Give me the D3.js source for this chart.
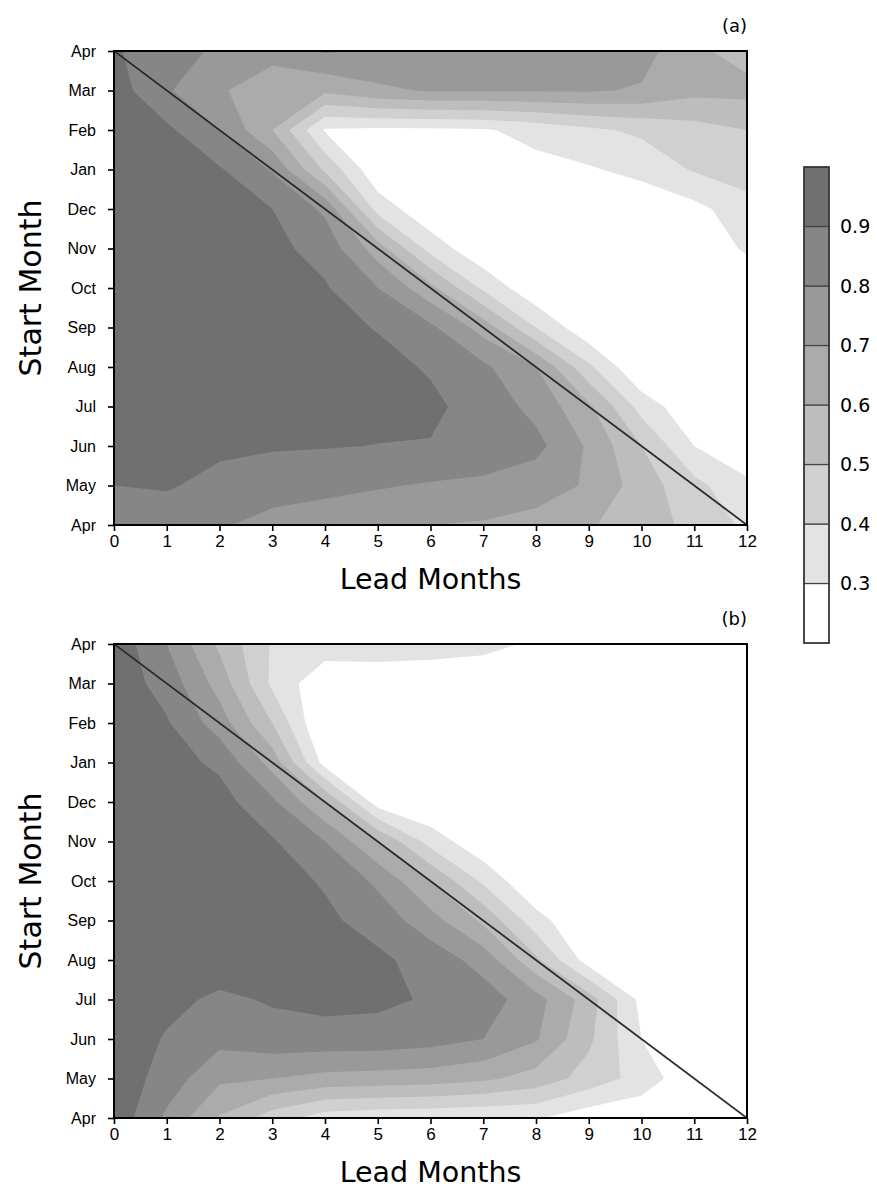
<!DOCTYPE html>
<html><head><meta charset="utf-8">
<script src="https://cdn.jsdelivr.net/npm/d3@7"></script>
<style>body{margin:0;background:#fff}</style>
</head><body>
<svg id="c" width="877" height="1190"></svg>
<script>
// Lead months (x) and start months (y, bottom to top)
const leadMonths = [0,1,2,3,4,5,6,7,8,9,10,11,12];
const startMonths = ["Apr","May","Jun","Jul","Aug","Sep","Oct","Nov","Dec","Jan","Feb","Mar","Apr"];
const levels = [0.3,0.4,0.5,0.6,0.7,0.8,0.9];
const colorbarEdges = [0.2,0.3,0.4,0.5,0.6,0.7,0.8,0.9,1.0];
const bandColors = ["#ffffff","#e3e3e3","#d0d0d0","#bdbdbd","#ababab","#999999","#868686","#707070"];

// Panel (a): rows = start month (Apr ... Apr), columns = lead 0..12
const skillA = [
 [0.86,0.84,0.81,0.77,0.74,0.715,0.70,0.69,0.67,0.61,0.55,0.47,0.38],
 [0.90,0.91,0.87,0.84,0.83,0.81,0.79,0.78,0.74,0.69,0.55,0.43,0.32],
 [0.93,0.94,0.92,0.91,0.905,0.898,0.895,0.86,0.83,0.685,0.50,0.30,0.23],
 [0.95,0.96,0.95,0.94,0.94,0.93,0.92,0.86,0.77,0.62,0.36,0.22,0.21],
 [0.96,0.96,0.95,0.95,0.94,0.93,0.89,0.82,0.70,0.42,0.20,0.20,0.22],
 [0.97,0.97,0.96,0.95,0.93,0.895,0.82,0.66,0.40,0.22,0.20,0.21,0.23],
 [0.97,0.97,0.96,0.94,0.91,0.80,0.63,0.38,0.22,0.20,0.20,0.22,0.25],
 [0.97,0.97,0.95,0.925,0.865,0.65,0.36,0.22,0.20,0.20,0.21,0.25,0.31],
 [0.97,0.96,0.94,0.90,0.78,0.36,0.22,0.20,0.20,0.22,0.23,0.27,0.36],
 [0.97,0.95,0.91,0.79,0.48,0.22,0.21,0.22,0.27,0.29,0.33,0.41,0.45],
 [0.97,0.92,0.80,0.60,0.29,0.28,0.28,0.29,0.33,0.38,0.42,0.46,0.50],
 [0.95,0.81,0.72,0.60,0.62,0.68,0.71,0.71,0.71,0.71,0.69,0.63,0.63],
 [0.91,0.85,0.78,0.76,0.81,0.79,0.78,0.78,0.78,0.77,0.74,0.62,0.56]
];

// Panel (b)
const skillB = [
 [0.97,0.78,0.59,0.45,0.35,0.33,0.32,0.31,0.31,0.24,0.22,0.20,0.20],
 [0.97,0.855,0.72,0.70,0.67,0.66,0.65,0.62,0.56,0.46,0.36,0.22,0.20],
 [0.97,0.89,0.83,0.86,0.86,0.86,0.84,0.80,0.71,0.52,0.30,0.22,0.20],
 [0.97,0.93,0.88,0.91,0.93,0.92,0.89,0.85,0.74,0.55,0.27,0.20,0.20],
 [0.97,0.97,0.96,0.95,0.94,0.92,0.86,0.76,0.52,0.25,0.20,0.20,0.20],
 [0.97,0.97,0.96,0.95,0.92,0.86,0.74,0.58,0.34,0.20,0.20,0.20,0.20],
 [0.97,0.97,0.96,0.94,0.89,0.78,0.60,0.38,0.20,0.20,0.20,0.20,0.20],
 [0.97,0.96,0.95,0.91,0.80,0.60,0.36,0.22,0.20,0.20,0.20,0.20,0.20],
 [0.97,0.95,0.94,0.82,0.60,0.25,0.20,0.20,0.20,0.20,0.20,0.20,0.20],
 [0.97,0.94,0.88,0.66,0.26,0.20,0.20,0.20,0.20,0.20,0.20,0.20,0.20],
 [0.96,0.91,0.75,0.50,0.18,0.20,0.20,0.20,0.20,0.20,0.20,0.20,0.20],
 [0.96,0.86,0.66,0.38,0.22,0.24,0.24,0.25,0.23,0.20,0.20,0.20,0.20],
 [0.97,0.80,0.58,0.39,0.36,0.35,0.34,0.32,0.29,0.27,0.26,0.25,0.25]
];

const svg = d3.select("#c");
svg.append("rect").attr("width",877).attr("height",1190).attr("fill","#fff");
const defs = svg.append("defs");

const tickFont = "'Liberation Sans', Arial, sans-serif";
const titleFont = "'DejaVu Sans', sans-serif";

function panel(values, top, tag) {
  const left = 114, right = 747, bottom = top + 474;
  const nx = leadMonths.length, ny = startMonths.length;
  const x = d3.scaleLinear().domain([0, 12]).range([left, right]);
  const y = d3.scaleLinear().domain([0, 12]).range([bottom, top]);
  const clipId = "clip" + tag;
  defs.append("clipPath").attr("id", clipId)
    .append("rect").attr("x", left).attr("y", top).attr("width", right - left).attr("height", bottom - top);

  const g = svg.append("g");
  const cg = g.append("g").attr("clip-path", `url(#${clipId})`);
  cg.append("rect").attr("x", left).attr("y", top).attr("width", right - left).attr("height", bottom - top)
    .attr("fill", bandColors[0]);

  const contours = d3.contours().size([nx, ny]).thresholds(levels)(values.flat());
  const proj = d3.geoTransform({ point(px, py) { this.stream.point(x(px - 0.5), y(py - 0.5)); } });
  const path = d3.geoPath(proj);
  cg.selectAll("path.band").data(contours).join("path").attr("class", "band")
    .attr("d", path).attr("fill", (d, i) => bandColors[i + 1]).attr("stroke", "none");

  // diagonal (verification in April)
  cg.append("line").attr("x1", x(0)).attr("y1", y(12)).attr("x2", x(12)).attr("y2", y(0))
    .attr("stroke", "#2a2a2a").attr("stroke-width", 1.8);

  // frame
  g.append("rect").attr("x", left).attr("y", top).attr("width", right - left).attr("height", bottom - top)
    .attr("fill", "none").attr("stroke", "#000").attr("stroke-width", 2);

  // axes
  const ya = d3.axisLeft(y).tickValues(leadMonths).tickSize(6).tickPadding(12).tickFormat(i => startMonths[i]);
  g.append("g").attr("transform", `translate(${left},0)`).call(ya)
    .call(s => s.select(".domain").remove())
    .call(s => s.selectAll("line").attr("stroke", "#000").attr("stroke-width", 1.6))
    .call(s => s.selectAll("text").attr("font-family", tickFont).attr("font-size", 16).attr("fill", "#000"));
  const xa = d3.axisBottom(x).tickValues(leadMonths).tickSize(6).tickPadding(4).tickFormat(d => d);
  g.append("g").attr("transform", `translate(0,${bottom})`).call(xa)
    .call(s => s.select(".domain").remove())
    .call(s => s.selectAll("line").attr("stroke", "#000").attr("stroke-width", 1.6))
    .call(s => s.selectAll("text").attr("font-family", tickFont).attr("font-size", 17).attr("fill", "#000"));

  g.append("text").attr("x", (left + right) / 2).attr("y", bottom + 64).attr("text-anchor", "middle")
    .attr("font-family", titleFont).attr("font-size", 28.5).attr("fill", "#000").text("Lead Months");
  g.append("text").attr("transform", `translate(41,${(top + bottom) / 2}) rotate(-90)`).attr("text-anchor", "middle")
    .attr("font-family", titleFont).attr("font-size", 30).attr("fill", "#000").text("Start Month");
  g.append("text").attr("x", right).attr("y", top - 19).attr("text-anchor", "end")
    .attr("font-family", titleFont).attr("font-size", 18).attr("fill", "#000").text(`(${tag})`);
}

panel(skillA, 51, "a");
panel(skillB, 644, "b");

// colorbar
const cb = d3.scaleLinear().domain([0.2, 1.0]).range([643, 167]);
const cbg = svg.append("g");
cbg.selectAll("rect.cb").data(d3.pairs(colorbarEdges)).join("rect").attr("class", "cb")
  .attr("x", 804).attr("width", 25)
  .attr("y", d => cb(d[1])).attr("height", d => cb(d[0]) - cb(d[1]))
  .attr("fill", (d, i) => bandColors[i]).attr("stroke", "#444").attr("stroke-width", 1.2);
cbg.append("rect").attr("x", 804).attr("y", cb(1.0)).attr("width", 25).attr("height", cb(0.2) - cb(1.0))
  .attr("fill", "none").attr("stroke", "#333").attr("stroke-width", 1.5);
cbg.selectAll("text").data(levels).join("text")
  .attr("x", 840).attr("y", d => cb(d)).attr("dy", "0.36em")
  .attr("font-family", titleFont).attr("font-size", 19).attr("fill", "#000")
  .text(d => d.toFixed(1));
</script>
</body></html>
